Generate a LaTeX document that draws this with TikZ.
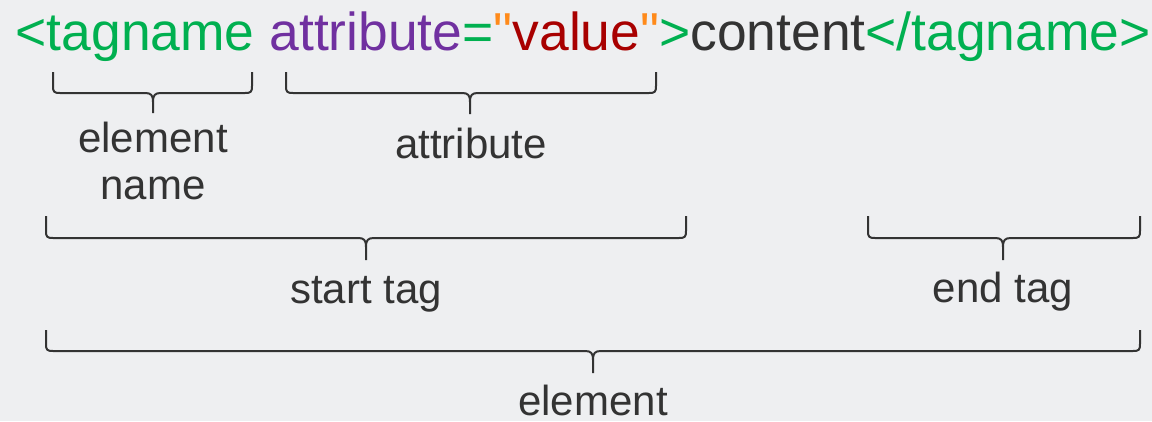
\documentclass[tikz,border=0pt]{standalone}
\usepackage{fontspec}
\setmainfont{Liberation Sans}
% plain family without TeX ligatures, so " stays a straight quote
\newfontfamily\codefont{Liberation Sans}
\usetikzlibrary{calc}

\definecolor{bgcol}{HTML}{EEEFF1}
\definecolor{inkcol}{HTML}{333333}
\definecolor{tagcol}{HTML}{00B050}
\definecolor{attrcol}{HTML}{7030A0}
\definecolor{valcol}{HTML}{A80000}
\definecolor{quotecol}{HTML}{FF8A1A}

% curly bracket opening upwards: left end, right end, middle, top of ends, bar level, tip
\newcommand{\spanbrace}[6]{%
  \draw[bracestyle]
    (#1,#4) -- (#1,#5-7)
      .. controls (#1,#5-1) and (#1+1,#5) .. (#1+7,#5)
      -- (#3-8,#5)
      .. controls (#3-2,#5) and (#3,#5+2) .. (#3,#5+9)
      -- (#3,#6)
    (#3,#5+9)
      .. controls (#3,#5+2) and (#3+2,#5) .. (#3+8,#5)
      -- (#2-7,#5)
      .. controls (#2-1,#5) and (#2,#5-1) .. (#2,#5-7)
      -- (#2,#4);}

\begin{document}
\begin{tikzpicture}[x=1pt,y=-1pt,
  bracestyle/.style={draw=inkcol,line width=2pt,line join=round},
  label/.style={inner sep=0pt,anchor=base,text=inkcol,align=center,
    font=\fontsize{42}{47}\selectfont},
  code/.style={inner sep=0pt,anchor=base west,text=inkcol,
    font=\codefont\fontsize{53.4}{60}\selectfont}]

  \fill[bgcol] (0,0) rectangle (1152,421);
  \useasboundingbox (0,0) rectangle (1152,421);

  % the HTML line
  \node[code] (html) at (15.5,50)
    {\textcolor{tagcol}{<tagname} \textcolor{attrcol}{attribute}\textcolor{tagcol}{=}\textcolor{quotecol}{"}\textcolor{valcol}{value}\textcolor{quotecol}{"}\textcolor{tagcol}{>}content\textcolor{tagcol}{</tagname>}};

  % brackets under the parts
  \spanbrace{53}{252}{153}{72}{93}{113}
  \spanbrace{286}{656}{470}{72}{93}{114}
  \spanbrace{46}{686}{366}{216}{238}{260}
  \spanbrace{868}{1140}{1003}{216}{238}{260}
  \spanbrace{46}{1140}{593}{330}{351}{373}

  % labels (base of a two-line label is its last line)
  \node[label] (lname)  at (153,199) {element\\name};
  \node[label] (lattr)  at (471,158) {attribute};
  \node[label] (lstart) at (366,303) {start tag};
  \node[label] (lend)   at (1003,302) {end tag};
  \node[label] (lelem)  at (593,415) {element};
\end{tikzpicture}
\end{document}
